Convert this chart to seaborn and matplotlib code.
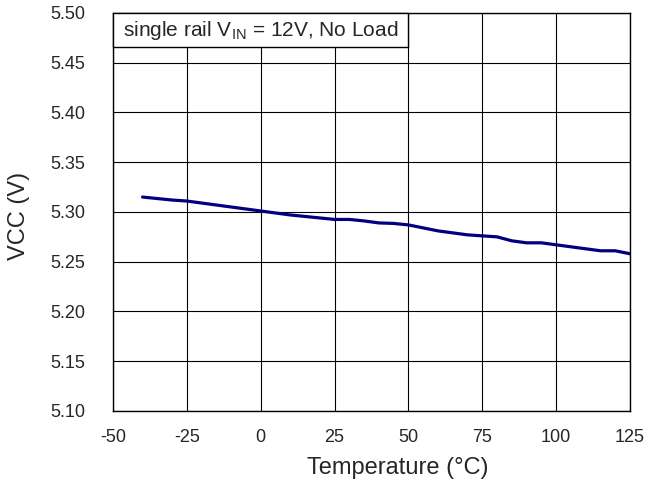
import numpy as np
import pandas as pd
import matplotlib
matplotlib.use('Agg')
import matplotlib.pyplot as plt
import matplotlib.patches as mpatches
import seaborn as sns

# Data
TEMPS = [-40, -35, -30, -25, -20, -15, -10, -5, 0, 5, 10, 15, 20, 25, 30, 35, 40,
         45, 50, 55, 60, 65, 70, 75, 80, 85, 90, 95, 100, 105, 110, 115, 120, 125]
VCC = [5.315, 5.3135, 5.312, 5.311, 5.309, 5.307, 5.305, 5.303, 5.301, 5.299, 5.297,
       5.2955, 5.294, 5.2925, 5.2925, 5.291, 5.289, 5.2885, 5.287, 5.284, 5.281, 5.279,
       5.277, 5.276, 5.275, 5.271, 5.269, 5.269, 5.267, 5.265, 5.263, 5.261, 5.261, 5.258]
XTICKS = [-50, -25, 0, 25, 50, 75, 100, 125]
YTICKS = [5.10, 5.15, 5.20, 5.25, 5.30, 5.35, 5.40, 5.45, 5.50]
NOTE = r'single rail V$_{\mathrm{IN}}$ = 12V, No Load'

sns.set_style('white')
plt.rcParams['font.family'] = ['Liberation Sans', 'DejaVu Sans']
plt.rcParams['mathtext.fontset'] = 'custom'
plt.rcParams['mathtext.rm'] = 'Liberation Sans'

df = pd.DataFrame({'Temperature': TEMPS, 'VCC': VCC})

fig = plt.figure(figsize=(6.49, 4.99), dpi=100)
ax = fig.add_axes([0.1741, 0.1764, 0.7966, 0.7976])
sns.lineplot(data=df, x='Temperature', y='VCC', ax=ax, color='#000080', linewidth=2.3)

ax.set_xlim(-50, 125)
ax.set_ylim(5.10, 5.50)
ax.set_xticks(XTICKS)
ax.set_yticks(YTICKS)
ax.set_xticklabels([str(t) for t in XTICKS], fontsize=13)
ax.set_yticklabels(['{:.2f}'.format(t) for t in YTICKS], fontsize=13)
ax.tick_params(axis='x', length=0, pad=13)
ax.tick_params(axis='y', length=0, pad=20)
ax.grid(True, color='black', linewidth=0.8)
for s in ax.spines.values():
    s.set_color('black')
    s.set_linewidth(1.0)
ax.set_xlabel('Temperature (°C)', fontsize=17)
ax.set_ylabel('VCC (V)', fontsize=17)
ax.xaxis.set_label_coords(0.551, -0.115)
ax.yaxis.set_label_coords(-0.16, 0.49)

# note box in the top-left corner
box = mpatches.Rectangle((0, 0.915), 0.5706, 0.085, transform=ax.transAxes,
                         facecolor='white', edgecolor='black', linewidth=1.0,
                         zorder=3, clip_on=False)
ax.add_patch(box)
ax.text(0.0185, 0.957, NOTE, transform=ax.transAxes, fontsize=15,
        va='center', ha='left', zorder=4)

fig.savefig('out.png', dpi=100)
